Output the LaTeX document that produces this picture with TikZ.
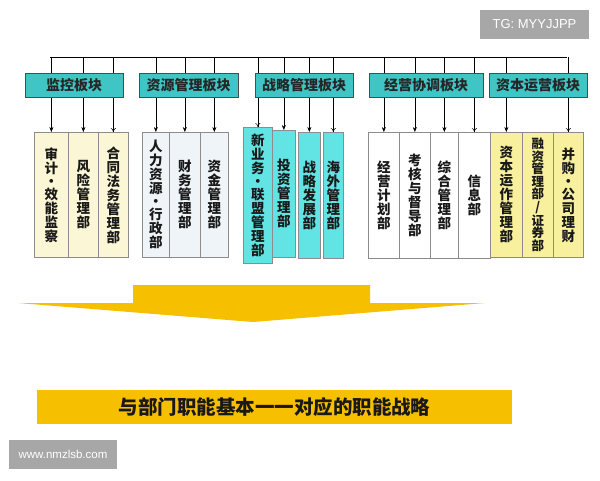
\documentclass[tikz,border=0pt]{standalone}
\usepackage{fontspec}
\newfontfamily\cjk{Noto Sans CJK SC}
\newfontfamily\wmfont{Liberation Sans}
\usetikzlibrary{arrows.meta}

\definecolor{catfill}{HTML}{3FC5C6}
\definecolor{gcream}{HTML}{FBF7D6}
\definecolor{gpale}{HTML}{EEF4F7}
\definecolor{gcyan}{HTML}{62E3E4}
\definecolor{gyellow}{HTML}{F8F09C}
\definecolor{gold}{HTML}{F6BF00}
\definecolor{wmgray}{HTML}{A7A7A7}

\tikzset{
  cat/.style={draw=black!70, line width=0.9pt, fill=catfill, inner sep=0pt,
    minimum height=24pt, text=black!85, font=\cjk\bfseries\fontsize{14}{14}\selectfont},
  dept/.style={draw=black!45, line width=0.7pt, inner sep=0pt, align=center,
    anchor=north west, text=black!90, font=\cjk\bfseries\fontsize{13.5}{14}\selectfont},
  link/.style={-{Stealth[length=5pt,width=4pt]}, line width=0.5pt},
  olink/.style={-{To[length=4pt,width=5pt]}, line width=0.5pt},
  wmark/.style={fill=wmgray, text=white, inner sep=0pt, font=\wmfont\fontsize{11.5}{11.5}\selectfont}
}

\begin{document}
\begin{tikzpicture}[x=1pt, y=-1pt]
  \useasboundingbox[fill=white] (0,0) rectangle (600,480);

  % departments
  \node[dept, fill=gcream, minimum width=34pt, minimum height=125pt] (sj) at (34,132) {审\\计\\[-1pt]·\\[-1pt]效\\能\\监\\察};
  \node[dept, fill=gcream, minimum width=30pt, minimum height=125pt] (fx) at (68,132) {风\\险\\管\\理\\部};
  \node[dept, fill=gcream, minimum width=30pt, minimum height=125pt] (ht) at (98,132) {合\\同\\法\\务\\管\\理\\部};

  \node[dept, fill=gpale, minimum width=27pt, minimum height=125pt] (rl) at (142,132) {人\\力\\资\\源\\[-1pt]·\\[-1pt]行\\政\\部};
  \node[dept, fill=gpale, minimum width=31pt, minimum height=125pt] (cw) at (169,132) {财\\务\\管\\理\\部};
  \node[dept, fill=gpale, minimum width=28pt, minimum height=125pt] (zj) at (200,132) {资\\金\\管\\理\\部};

  \node[dept, fill=gcyan, minimum width=29pt, minimum height=136pt] (xyw) at (243,127) {新\\业\\务\\[-1pt]·\\[-1pt]联\\盟\\管\\理\\部};
  \node[dept, fill=gcyan, minimum width=23pt, minimum height=127pt] (tz) at (272,130) {投\\资\\管\\理\\部};
  \node[dept, fill=gcyan, minimum width=22pt, minimum height=126pt] (zl) at (298,132) {战\\略\\发\\展\\部};
  \node[dept, fill=gcyan, minimum width=20pt, minimum height=126pt] (hw) at (323,132) {海\\外\\管\\理\\部};

  \node[dept, fill=white, minimum width=31pt, minimum height=126pt] (jy) at (368,132) {经\\营\\计\\划\\部};
  \node[dept, fill=white, minimum width=31pt, minimum height=126pt] (kh) at (399,132) {考\\核\\与\\督\\导\\部};
  \node[dept, fill=white, minimum width=28pt, minimum height=126pt] (zh) at (430,132) {综\\合\\管\\理\\部};
  \node[dept, fill=white, minimum width=32pt, minimum height=126pt] (xx) at (458,132) {信\\息\\部};

  \node[dept, fill=gyellow, minimum width=32pt, minimum height=125pt] (zb) at (490,132) {资\\本\\运\\作\\管\\理\\部};
  \node[dept, fill=gyellow, minimum width=31pt, minimum height=125pt,
    font=\cjk\bfseries\fontsize{12.5}{12.5}\selectfont] (rz) at (522,132) {融\\资\\管\\理\\部\\/\\证\\券\\部};
  \node[dept, fill=gyellow, minimum width=30pt, minimum height=125pt] (bg) at (553,132) {并\\购\\[-1pt]·\\[-1pt]公\\司\\理\\财};

  % bus and links
  \coordinate (busL) at (50,57);
  \coordinate (busR) at (567,57);
  \draw[line width=0.5pt] (busL) -- (busR);
  \foreach \d in {sj,fx,rl,cw,zj,tz,zl,jy,kh,zh,zb}
    \draw[link] (\d.north |- busL) -- (\d.north);
  \foreach \d in {ht,xyw,hw,xx,bg}
    \draw[olink] (\d.north |- busL) -- (\d.north);

  % blocks
  \node[cat, minimum width=98pt] (jk) at (74,85) {监控板块};
  \node[cat, minimum width=99pt] (zy) at (188.5,85) {资源管理板块};
  \node[cat, minimum width=98pt] (zlgl) at (304,85) {战略管理板块};
  \node[cat, minimum width=114pt] (jyxt) at (426,85) {经营协调板块};
  \node[cat, minimum width=98pt] (zbyy) at (538,85) {资本运营板块};

  % big arrow and result
  \fill[gold] (133,285) -- (370,285) -- (370,303) -- (485,303) -- (253,322)
    -- (18,303) -- (133,303) -- cycle;
  \node[fill=gold, minimum width=475pt, minimum height=34pt, inner sep=0pt,
    font=\cjk\bfseries\fontsize{19.5}{19.5}\selectfont, text=black!90] (res) at (274.5,407)
    {与部门职能基本一一对应的职能战略};

  % watermarks
  \node[wmark, minimum width=109pt, minimum height=29pt, font=\wmfont\fontsize{13}{13}\selectfont] (tg) at (534.5,24.5) {TG: MYYJJPP};
  \node[wmark, minimum width=108pt, minimum height=29pt] (www) at (63,454.5) {www.nmzlsb.com};
\end{tikzpicture}
\end{document}
